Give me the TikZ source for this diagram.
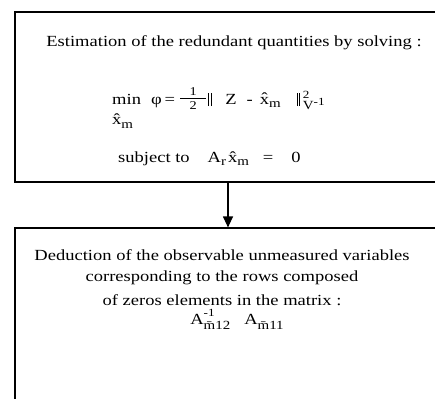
\documentclass[tikz,border=0pt]{standalone}
\usepackage{fontspec}
\setmainfont{Liberation Serif}[FakeStretch=1.2]
\usetikzlibrary{arrows.meta}

% small raised / lowered indices set in the text font
\newcommand{\lowidx}[2][3.5bp]{\raisebox{-#1}{\fontsize{12.5}{13}\selectfont #2}}
\newcommand{\highidx}[2][6bp]{\raisebox{#1}{\fontsize{11}{12}\selectfont #2}}
\newcommand{\normbars}{\rule[-2bp]{0.8bp}{13bp}\hspace{1.6bp}\rule[-2bp]{0.8bp}{13bp}}
\newcommand{\hatx}{\^{x}}

\begin{document}
\begin{tikzpicture}[
    x=1bp, y=-1bp,
    font=\fontsize{15.5}{18}\selectfont,
    stagebox/.style={draw, line width=1.2bp, inner sep=0pt},
    line/.style={inner sep=0pt},
    flowarrow/.style={-{Triangle[length=11bp,width=10bp]}, line width=1.2bp}
]
\path[use as bounding box] (0,0) rectangle (435,398);
\clip (0,0) rectangle (435,398);

%--------
% TOP STAGE: estimation
%--------
\node[stagebox, minimum width=426bp, minimum height=170bp] (estim) at (228,97) {};
\node[line] (estimtitle) at (234,43) {Estimation of the redundant quantities by solving :};
\node[line, anchor=base west] (criterion) at (112,104)
    {\begin{tabular}[t]{@{}l@{}}min\\[3bp]\hatx\lowidx{m}\end{tabular}%
     \hspace{10bp}φ\hspace{3bp}=\hspace{5bp}%
     \raisebox{1bp}{\fontsize{12}{12}\selectfont
       \begin{tabular}{@{}c@{}}\makebox[26bp]{1}\\[-1bp]\hline\rule{0pt}{11bp}2\end{tabular}}%
     \hspace{2bp}\normbars\hspace{14bp}Z\hspace{10bp}-\hspace{7bp}\hatx\lowidx{m}%
     \hspace{16bp}\normbars\hspace{3bp}%
     \rlap{\highidx{2}}\lowidx[5bp]{V\highidx[4bp]{-1}}};
\node[line, anchor=base west] (constraint) at (118,162)
    {subject to\hspace{18bp}A\lowidx{r}\hspace{2bp}\hatx\lowidx{m}\hspace{14bp}=\hspace{18bp}0};

%--------
% BOTTOM STAGE: deduction
%--------
\node[stagebox, minimum width=426bp, minimum height=192bp] (deduct) at (228,324) {};
\node[line] (deducta) at (222,255) {Deduction of the observable unmeasured variables};
\node[line] (deductb) at (222,278) {corresponding to the rows composed};
\node[line] (deductc) at (222,300) {of zeros elements in the matrix :};
\node[line, anchor=base] (matrices) at (237,324)
    {A\rlap{\highidx[8bp]{-1}}\lowidx[5bp]{\={m}12}\hspace{14bp}A\lowidx[5bp]{\={m}11}};

\draw[flowarrow] (estim.south) -- (deduct.north);

\end{tikzpicture}
\end{document}
